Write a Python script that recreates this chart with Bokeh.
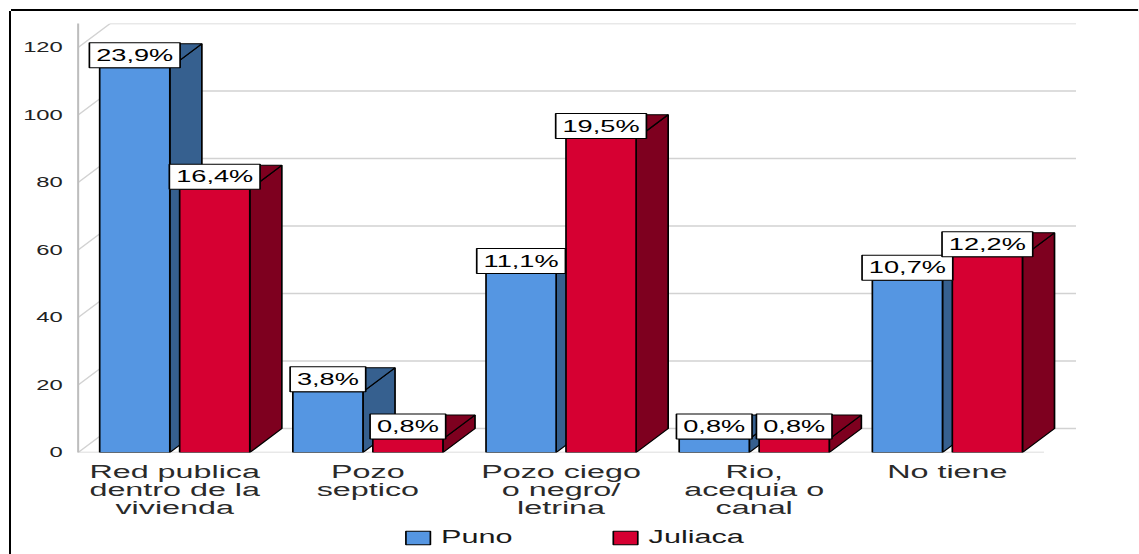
from bokeh.plotting import figure
from bokeh.layouts import column
from bokeh.models import Range1d, FixedTicker, Legend, LegendItem, InlineStyleSheet
from bokeh.embed import file_html
from bokeh.resources import INLINE

# Counts per disposal type and city
categories = [
    "Red publica\ndentro de la\nvivienda",
    "Pozo\nseptico",
    "Pozo ciego\no negro/\nletrina",
    "Rio,\nacequia o\ncanal",
    "No tiene",
]
puno = [114, 18, 53, 4, 51]
juliaca = [78, 4, 93, 4, 58]
series_names = ["Puno", "Juliaca"]
y_ticks = [0, 20, 40, 60, 80, 100, 120]

FONT = "Liberation Sans"
FRONT = {"Puno": "#5596E2", "Juliaca": "#D60032"}
SIDE = {"Puno": "#36608F", "Juliaca": "#7E001F"}
GRID = "#D2D2D2"

total = sum(puno) + sum(juliaca)
BAR_W = 0.363      # bar width in category units
OFFSET = 0.207     # dodge of each series from the category centre
DX = 0.166         # 3D depth, horizontal (category units)
DY = 7.11          # 3D depth, vertical (value units)
y_top = max(y_ticks) + DY
n = len(categories)

# the drawing surfaces are widened 1.7x horizontally
stretch = InlineStyleSheet(css=":host > .bk-Canvas { transform: scaleX(1.7); transform-origin: 0 0; }")
stretch_top = InlineStyleSheet(css=":host > .bk-Canvas { box-shadow: 0 -2px 0 0 black; }")

p = figure(
    width=663, height=511,
    x_range=Range1d(-0.5, n - 0.5 + DX),
    y_range=Range1d(0, y_top),
    output_backend="svg", toolbar_location=None,
    min_border_left=39, min_border_right=37,
    min_border_top=12, min_border_bottom=70,
)
p.stylesheets = [stretch, stretch_top]
p.outline_line_color = None
p.xgrid.visible = False
p.ygrid.visible = False
p.background_fill_color = "white"
p.border_fill_color = "white"

# back wall gridlines and left-wall connectors
for v in y_ticks:
    p.segment(x0=[-0.5 + DX], y0=[v + DY], x1=[n - 0.5 + DX], y1=[v + DY],
              line_color=GRID, line_width=1.6)
    p.segment(x0=[-0.5], y0=[v], x1=[-0.5 + DX], y1=[v + DY],
              line_color=GRID, line_width=1.2)
# front floor edge
p.segment(x0=[-0.5], y0=[0], x1=[n - 0.5], y1=[0], line_color=GRID, line_width=1.6)

for name, vals, sign in (("Puno", puno, -1), ("Juliaca", juliaca, 1)):
    centers = [i + sign * OFFSET for i in range(n)]
    lefts = [c - BAR_W / 2 for c in centers]
    rights = [c + BAR_W / 2 for c in centers]
    side_xs = [[r, r + DX, r + DX, r] for r in rights]
    side_ys = [[0, DY, v + DY, v] for v in vals]
    top_xs = [[l, r, r + DX, l + DX] for l, r in zip(lefts, rights)]
    top_ys = [[v, v, v + DY, v + DY] for v in vals]
    p.patches(side_xs, side_ys, fill_color=SIDE[name], line_color="black", line_width=1)
    p.patches(top_xs, top_ys, fill_color=SIDE[name], line_color="black", line_width=1)
    p.vbar(x=centers, top=vals, bottom=0, width=BAR_W,
           fill_color=FRONT[name], line_color="black", line_width=1)

# percentage labels in boxed callouts on top of each bar
for name, vals, sign in (("Puno", puno, -1), ("Juliaca", juliaca, 1)):
    centers = [i + sign * OFFSET for i in range(n)]
    labels = [f"{v / total * 100:.1f}%".replace(".", ",") for v in vals]
    p.text(x=centers, y=vals, text=labels,
           text_align="center", text_baseline="middle", anchor="bottom_center",
           padding=4, background_fill_color="white",
           border_line_color="black", border_line_width=1,
           text_font={"value": FONT}, text_font_size="16px", text_color="black")

# axes
p.yaxis.ticker = FixedTicker(ticks=y_ticks)
p.yaxis.axis_line_color = "#BDBDBD"
p.yaxis.axis_line_width = 1.2
p.yaxis.major_tick_line_color = None
p.yaxis.minor_tick_line_color = None
p.yaxis.major_label_standoff = 3
p.yaxis.major_label_text_font = FONT
p.yaxis.major_label_text_font_size = "14px"
p.yaxis.major_label_text_color = "#222222"

p.xaxis.ticker = FixedTicker(ticks=list(range(n)))
p.xaxis.major_label_overrides = {i: c for i, c in enumerate(categories)}
p.xaxis.axis_line_color = None
p.xaxis.major_tick_line_color = None
p.xaxis.minor_tick_line_color = None
p.xaxis.major_label_standoff = 3
p.xaxis.major_label_text_font = FONT
p.xaxis.major_label_text_font_size = "19px"
p.xaxis.major_label_text_line_height = 0.85
p.xaxis.major_label_text_color = "#2A2A2A"

# legend strip underneath the chart
leg = figure(width=663, height=32, output_backend="svg", toolbar_location=None,
             x_axis_location=None, y_axis_location=None,
             min_border=0, min_border_left=0, min_border_right=0,
             min_border_top=0, min_border_bottom=0,
             x_range=Range1d(0, 1), y_range=Range1d(0, 1))
leg.stylesheets = [stretch]
leg.outline_line_color = None
leg.xgrid.visible = False
leg.ygrid.visible = False
# legend-only renderers: a single undefined point, so only the swatch is drawn
swatches = {s: leg.vbar(x=[float("nan")], top=[float("nan")], width=0.1,
                        fill_color=FRONT[s], line_color="black", line_width=1)
            for s in series_names}
legend = Legend(
    items=[LegendItem(label=s, renderers=[swatches[s]]) for s in series_names],
    orientation="horizontal", location=(191, 6),
    glyph_width=18, glyph_height=17, label_standoff=5, spacing=57,
    padding=0, margin=0, border_line_alpha=0, background_fill_alpha=0,
    label_text_font=FONT, label_text_font_size="18px", label_text_color="#1A1A1A",
)
leg.add_layout(legend)

layout = column(p, leg, spacing=0, styles={
    "margin-left": "9px", "margin-top": "11px",
    "border-left": "2px solid black",
})

open("out.html", "w").write(file_html(layout, INLINE))
